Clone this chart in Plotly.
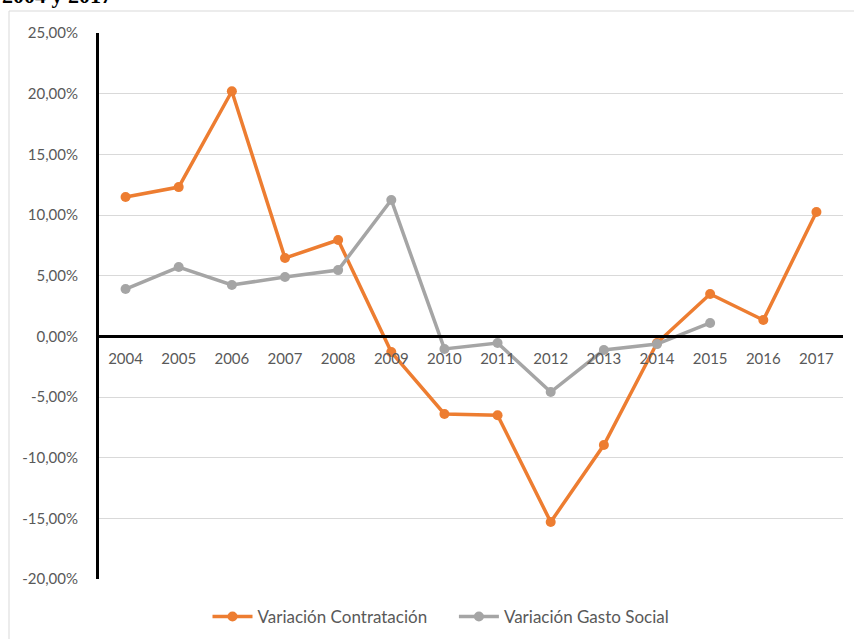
import plotly.graph_objects as go

years = ["2004", "2005", "2006", "2007", "2008", "2009", "2010", "2011",
         "2012", "2013", "2014", "2015", "2016", "2017"]
contratacion = [11.48, 12.30, 20.20, 6.45, 7.94, -1.30, -6.40, -6.50,
                -15.30, -8.96, -0.55, 3.49, 1.34, 10.25]
gasto_social = [3.90, 5.71, 4.23, 4.89, 5.46, 11.24, -1.04, -0.55,
                -4.59, -1.13, -0.64, 1.10]
y_ticks = [-20, -15, -10, -5, 0, 5, 10, 15, 20, 25]
y_ticktext = ["-20,00%", "-15,00%", "-10,00%", "-5,00%", "0,00%",
              "5,00%", "10,00%", "15,00%", "20,00%", "25,00%"]

ORANGE = "#ED7D31"
GRAY = "#A5A5A5"
TXT = "#595959"
FONT = "Lato"

fig = go.Figure()
fig.add_trace(go.Scatter(
    x=years, y=contratacion, name="Variación Contratación" + "\u00a0" * 5,
    mode="lines+markers",
    line=dict(color=ORANGE, width=3.5),
    marker=dict(color=ORANGE, size=10),
))
fig.add_trace(go.Scatter(
    x=years[:len(gasto_social)], y=gasto_social, name="Variación Gasto Social",
    mode="lines+markers",
    line=dict(color=GRAY, width=3.5),
    marker=dict(color=GRAY, size=10),
))

W, H = 854, 639
ml, mr, mt, mb = 99, 11, 33, 60
pw, ph = W - ml - mr, H - mt - mb

def px_to_paper_x(px):
    return (px - ml) / pw

def px_to_paper_y(py):
    return 1 + (mt - py) / ph

fig.update_layout(
    width=W, height=H,
    margin=dict(l=ml, r=mr, t=mt, b=mb, autoexpand=False),
    paper_bgcolor="white", plot_bgcolor="white",
    font=dict(family=FONT, size=15, color=TXT),
    showlegend=True,
    legend=dict(orientation="h", xref="container", yref="container",
                x=441 / W, xanchor="center",
                y=1 - 617 / H, yanchor="middle",
                font=dict(family=FONT, size=17, color=TXT),
                itemwidth=40, tracegroupgap=0),
    xaxis=dict(
        type="category", range=[-0.5, len(years) - 0.5],
        anchor="free", position=(0 - (-20)) / 45,
        showline=True, linecolor="black", linewidth=2.5,
        showgrid=False, zeroline=False, automargin=False,
        ticks="", ticklabelstandoff=8,
        tickfont=dict(family=FONT, size=15, color=TXT),
    ),
    yaxis=dict(
        range=[-20, 25], tickvals=y_ticks, ticktext=y_ticktext,
        showline=True, linecolor="black", linewidth=3,
        showgrid=True, gridcolor="#D9D9D9", gridwidth=1,
        zeroline=False, ticks="", ticklabelstandoff=15, automargin=False,
        tickfont=dict(family=FONT, size=15, color=TXT),
    ),
)

# outer chart frame
fig.add_shape(type="rect", xref="paper", yref="paper",
              x0=px_to_paper_x(9), x1=px_to_paper_x(W + 5),
              y0=px_to_paper_y(H + 5), y1=px_to_paper_y(11),
              line=dict(color="#D9D9D9", width=1), layer="below")

# cut-off title (partly above the page, as in the reference)
fig.add_annotation(text="<b>2004 y 2017</b>", xref="paper", yref="paper",
                   x=px_to_paper_x(0), xanchor="left",
                   y=px_to_paper_y(10), yanchor="bottom",
                   showarrow=False,
                   font=dict(family="Liberation Serif", size=22, color="black"))

fig.write_html("out.html",
               config={"displayModeBar": False},
               post_script="document.body.style.margin='0px';"
                           "document.body.style.overflow='hidden';")
